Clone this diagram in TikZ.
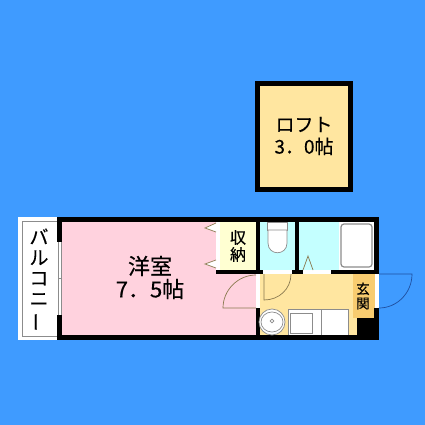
\documentclass[tikz,border=0pt]{standalone}
\usepackage{fontspec}
\usepackage{graphicx}
\setmainfont[FakeBold=0.35]{Noto Sans CJK JP}
\definecolor{bgblue}{HTML}{3F9BFF}
\definecolor{roompink}{HTML}{FFD2DE}
\definecolor{floorcream}{HTML}{FFE6A0}
\definecolor{closetcream}{HTML}{FFFFD2}
\definecolor{wetblue}{HTML}{C4FFFF}
\definecolor{genkan}{HTML}{F8CC70}
\definecolor{linegrey}{HTML}{8C8C8C}
\definecolor{doorbrown}{HTML}{8A7A50}
\definecolor{doorblue}{HTML}{1F4F9F}
\tikzset{
  x=1pt,y=-1pt,
  wall/.style={fill=black,draw=none},
  gap/.style={fill=white,draw=none},
  fixture/.style={draw=linegrey,fill=white,line width=.7pt},
  doorline/.style={draw=doorbrown,line width=.7pt},
  label/.style={inner sep=0pt,text=black,align=center},
}
\begin{document}
\begin{tikzpicture}
\useasboundingbox (0,0) rectangle (425,425);
\fill[bgblue] (0,0) rectangle (425,425);
% loft
\fill[black] (255,81) rectangle (353,192);
\fill[floorcream] (260,86) rectangle (348,187);
\node[label,font=\fontsize{19}{22}\selectfont] (loft) at (304,136) {ロフト\\3．0帖};
% balcony
\fill[white] (18,217) rectangle (57,340);
\draw[linegrey,line width=.7pt] (57,221) -- (22,221) -- (22,336) -- (57,336);
\node[label,font=\fontsize{19}{20.5}\selectfont] (balcony) at (39,280) {バ\\ル\\コ\\ニ\\\rotatebox[origin=c]{90}{ー}};
% rooms
\fill[roompink] (60,220) rectangle (258,337);
\fill[white] (216,221) rectangle (220,270);
\fill[closetcream] (220,221) rectangle (256,270);
\fill[wetblue] (260,221) rectangle (296,271);
\fill[wetblue] (298,221) rectangle (340,271);
\fill[white] (339,221) rectangle (375,271);
\fill[floorcream] (260,273) rectangle (358,336);
\fill[genkan] (353,273) rectangle (375,318);
% walls
\fill[wall] (57,217) rectangle (379,222);
\fill[wall] (57,335) rectangle (379,340);
\fill[wall] (57,217) rectangle (62,242);
\fill[wall] (57,315) rectangle (62,340);
\fill[wall] (256,217) rectangle (260,274);
\fill[wall] (295,217) rectangle (299,274);
\fill[wall] (216,270) rectangle (379,274);
\fill[wall] (374,217) rectangle (379,274);
\fill[wall] (374,308) rectangle (379,340);
\fill[wall] (357,318) rectangle (379,340);
\fill[wall] (256,308) rectangle (260,340);
% openings
\fill[gap] (57,242) rectangle (62,315);
\draw[linegrey,line width=.8pt] (58.5,242) -- (58.5,315) (61,242) -- (61,315);
\draw[linegrey,line width=.5pt] (58,278) -- (62,278);
\fill[gap] (263,270) rectangle (292,274);
\fill[gap] (303,270) rectangle (331,274);
\fill[gap] (256,274) rectangle (260,308);
\fill[gap] (375,274) rectangle (379,308);
% closet door marks
\draw[doorline,fill=white] (216,223) -- (205,228) -- (216,232);
\draw[doorline,fill=white] (216,260) -- (205,264) -- (216,268);
% doors
\draw[doorline] (264,274) -- (264,300) .. controls (279,300) and (291,289) .. (291,274);
\draw[doorline] (256,308) -- (223,308) .. controls (223,290) and (238,275) .. (256,275);
\draw[doorblue,line width=.7pt] (379,274) -- (412,274) .. controls (412,293) and (397,308) .. (379,308);
\draw[doorline] (303,270) -- (308,256) -- (313,270);
% toilet
\draw[fixture] (267,222) rectangle (287,230);
\draw[fixture] (268,230) -- (268,243) .. controls (268,256) and (287,256) .. (287,243) -- (287,230) -- cycle;
% bath
\draw[linegrey,line width=1.2pt,fill=white,rounded corners=3pt] (341,224) rectangle (372,267);
% sink
\draw[fixture] (272,322) circle[radius=13];
\draw[fixture] (272,322) ellipse[x radius=11,y radius=10];
\draw[fixture] (272,321) circle[radius=1.8];
% counter
\draw[fixture] (288,335) -- (288,309) -- (348,309) -- (348,335);
\draw[fixture] (321,309) -- (321,335);
\draw[fixture] (290,313) rectangle (312,333);
% labels
\node[label,font=\fontsize{22}{23}\selectfont] (room) at (150,277.5) {洋室\\7．5帖};
\node[label,font=\fontsize{16}{17}\selectfont] (closet) at (238,246) {収\\納};
\node[label,font=\fontsize{13.5}{14.5}\selectfont] (entry) at (363,296) {玄\\関};
\end{tikzpicture}
\end{document}
